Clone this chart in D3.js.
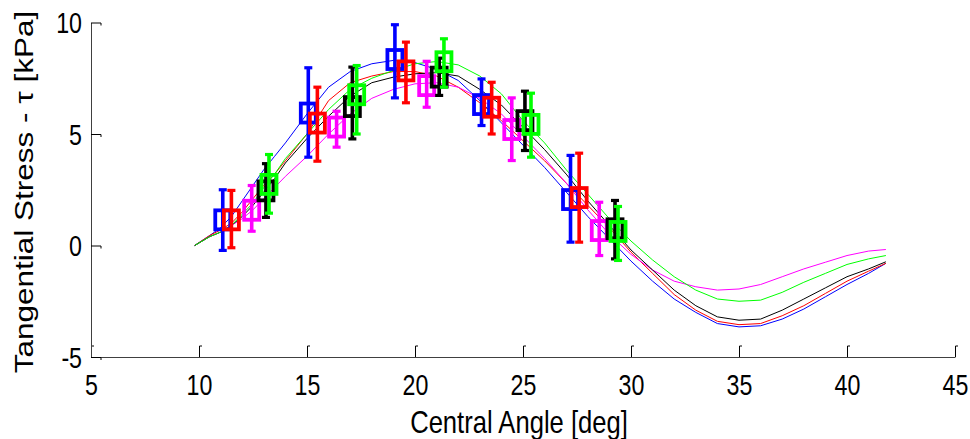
<!DOCTYPE html>
<html>
<head>
<meta charset="utf-8">
<script src="https://cdn.jsdelivr.net/npm/d3@7"></script>
<style>
  html, body { margin: 0; padding: 0; background: #fff; }
  svg text { font-family: "Liberation Sans", Arial, Helvetica, sans-serif; fill: #000; }
</style>
</head>
<body>
<svg id="chart" width="970" height="439"></svg>
<script>
// sampled central angles for the simulated curves
const angles = [9.8, 10.5, 11, 11.5, 12, 12.5, 13, 13.5, 14, 15, 16, 17, 18, 19, 20, 21, 22, 23, 24, 25,
                26, 27, 28, 29, 30, 31, 32, 33, 34, 35, 36, 37, 38, 39, 40, 41, 41.8];

const blueCurve    = [0, 0.45, 0.8, 1.3, 2.0, 2.7, 3.4, 4.0, 4.6, 5.9, 7.1, 7.8, 8.15, 8.3, 8.2, 7.9, 7.4, 6.5, 5.5, 4.5,
                      3.5, 2.4, 1.3, 0.3, -0.7, -1.6, -2.4, -3.0, -3.5, -3.65, -3.6, -3.3, -2.85, -2.3, -1.75, -1.25, -0.8];
const redCurve     = [0, 0.45, 0.7, 1.0, 1.5, 2.1, 2.7, 3.2, 3.8, 5.0, 6.5, 7.3, 7.6, 7.8, 7.8, 7.6, 7.1, 6.4, 5.6, 4.7,
                      3.8, 2.8, 1.8, 0.8, -0.3, -1.25, -2.2, -2.9, -3.4, -3.55, -3.5, -3.15, -2.7, -2.15, -1.6, -1.15, -0.8];
const magentaCurve = [0, 0.4, 0.6, 0.9, 1.2, 1.6, 2.1, 2.6, 3.1, 4.0, 5.0, 5.9, 6.6, 7.0, 7.25, 7.3, 7.1, 6.6, 5.9, 4.9,
                      3.9, 2.8, 1.6, 0.5, -0.4, -1.1, -1.6, -1.85, -2.0, -1.95, -1.75, -1.4, -1.05, -0.75, -0.45, -0.25, -0.18];
const blackCurve   = [0, 0.4, 0.6, 0.9, 1.3, 1.8, 2.4, 3.0, 3.7, 4.8, 5.8, 6.7, 7.3, 7.55, 7.7, 7.75, 7.6, 7.0, 6.3, 5.3,
                      4.3, 3.2, 2.0, 0.9, -0.2, -1.1, -2.0, -2.7, -3.2, -3.35, -3.3, -2.9, -2.4, -1.9, -1.4, -1.05, -0.73];
const greenCurve   = [0, 0.4, 0.6, 0.9, 1.4, 1.9, 2.6, 3.2, 3.9, 5.0, 6.1, 7.0, 7.5, 7.85, 8.15, 8.25, 8.1, 7.6, 6.8, 5.6,
                      4.6, 3.4, 2.3, 1.2, 0.2, -0.65, -1.4, -2.0, -2.4, -2.5, -2.45, -2.1, -1.65, -1.25, -0.85, -0.6, -0.45];

// measured points (square) with error bars
const blueMarkX = [11.1, 15.06, 19.07, 23.08, 27.2];
const blueMarkY = [1.15, 5.94, 8.34, 6.32, 2.06];
const blueLow   = [-0.22, 3.96, 6.62, 5.38, 0.15];
const blueHigh  = [2.5, 7.97, 9.9, 7.47, 4.04];

const redMarkX = [11.5, 15.48, 19.58, 23.55, 27.6];
const redMarkY = [1.15, 5.49, 7.83, 6.2, 2.15];
const redLow   = [-0.1, 3.78, 6.4, 5.0, 0.15];
const redHigh  = [2.47, 7.1, 9.12, 7.32, 4.14];

const magentaMarkX = [12.44, 16.37, 20.54, 24.48, 28.53];
const magentaMarkY = [1.58, 5.31, 7.17, 5.2, 0.67];
const magentaLow   = [0.64, 4.41, 6.2, 3.81, -0.45];
const magentaHigh  = [2.69, 6.02, 8.26, 6.62, 1.94];

const blackMarkX = [13.1, 17.1, 21.12, 25.09, 29.26];
const blackMarkY = [2.45, 6.23, 7.55, 5.6, 0.75];
const blackLow   = [1.26, 4.78, 6.73, 4.26, -0.6];
const blackHigh  = [3.67, 8.0, 8.4, 6.92, 2.02];

const greenMarkX = [13.24, 17.3, 21.34, 25.37, 29.4];
const greenMarkY = [2.74, 6.76, 8.24, 5.43, 0.63];
const greenLow   = [1.45, 5.0, 7.1, 3.96, -0.67];
const greenHigh  = [4.08, 8.07, 9.27, 6.83, 1.75];

const xTicks = [5, 10, 15, 20, 25, 30, 35, 40, 45];
const yTicks = [-5, 0, 5, 10];

const series = [
  {color: "#0000ff", curve: blueCurve,    mx: blueMarkX,    my: blueMarkY,    lo: blueLow,    hi: blueHigh},
  {color: "#ff0000", curve: redCurve,     mx: redMarkX,     my: redMarkY,     lo: redLow,     hi: redHigh},
  {color: "#ff00ff", curve: magentaCurve, mx: magentaMarkX, my: magentaMarkY, lo: magentaLow, hi: magentaHigh},
  {color: "#000000", curve: blackCurve,   mx: blackMarkX,   my: blackMarkY,   lo: blackLow,   hi: blackHigh},
  {color: "#00ff00", curve: greenCurve,   mx: greenMarkX,   my: greenMarkY,   lo: greenLow,   hi: greenHigh}
];

const svg = d3.select("#chart");
const x = d3.scaleLinear().domain([5, 45]).range([91, 955]);
const y = d3.scaleLinear().domain([-5, 10]).range([357, 22.5]);
const squash = "scale(0.8,1)";   // text in the picture is horizontally narrowed
const plain = d => String(d);    // hyphen minus like the original, not U+2212

// curves
const line = d3.line().x((d, i) => x(angles[i])).y(d => y(d));
svg.append("g").attr("id", "curves")
  .selectAll("path")
  .data(series)
  .join("path")
  .attr("d", d => line(d.curve))
  .attr("fill", "none")
  .attr("stroke", d => d.color)
  .attr("stroke-width", 1);

// markers with error bars
const gm = svg.append("g").attr("id", "markers");
series.forEach(s => {
  const g = gm.append("g").attr("stroke", s.color).attr("fill", "none");
  s.mx.forEach((mx, i) => {
    const cx = x(mx);
    g.append("line").attr("x1", cx).attr("x2", cx).attr("y1", y(s.lo[i])).attr("y2", y(s.hi[i]))
      .attr("stroke-width", 3.6);
    [s.lo[i], s.hi[i]].forEach(v => {
      g.append("line").attr("x1", cx - 4).attr("x2", cx + 4).attr("y1", y(v)).attr("y2", y(v))
        .attr("stroke-width", 3.2);
    });
    g.append("rect").attr("x", cx - 7.5).attr("y", y(s.my[i]) - 9.5)
      .attr("width", 15).attr("height", 19).attr("stroke-width", 3.8);
  });
});

// x axis
const xAxis = svg.append("g").attr("transform", "translate(0,357)")
  .call(d3.axisBottom(x).tickValues(xTicks).tickSizeInner(-11).tickSizeOuter(0).tickFormat(plain));
xAxis.select(".domain").attr("stroke", "#404040");
xAxis.selectAll(".tick line").attr("stroke", "#000");
xAxis.selectAll(".tick").append("line")
  .attr("x1", 0).attr("x2", 2.5).attr("y1", -11).attr("y2", -11).attr("stroke", "#000");
xAxis.selectAll(".tick text")
  .attr("y", 38).attr("dy", null)
  .attr("font-size", 29).attr("font-family", null)
  .attr("transform", squash);

// y axis
const yAxis = svg.append("g").attr("transform", "translate(91,0)")
  .call(d3.axisLeft(y).tickValues(yTicks).tickSizeInner(-10).tickSizeOuter(0).tickFormat(plain));
yAxis.select(".domain").attr("stroke", "#404040");
yAxis.selectAll(".tick line").attr("stroke", "#000");
yAxis.selectAll(".tick").append("line")
  .attr("x1", 10).attr("x2", 10).attr("y1", 0).attr("y2", 2.5).attr("stroke", "#000");
yAxis.selectAll(".tick text")
  .attr("x", -11.25).attr("dy", "0.36em")
  .attr("font-size", 29).attr("font-family", null)
  .attr("transform", squash);

// axis titles
svg.append("text")
  .attr("transform", "translate(519,433) " + squash)
  .attr("text-anchor", "middle")
  .attr("font-size", 32)
  .text("Central Angle [deg]");

svg.append("text")
  .attr("transform", "translate(33,192) " + squash + " rotate(-90)")
  .attr("text-anchor", "middle")
  .attr("font-size", 31.5)
  .text("Tangential Stress - τ [kPa]");
</script>
</body>
</html>
